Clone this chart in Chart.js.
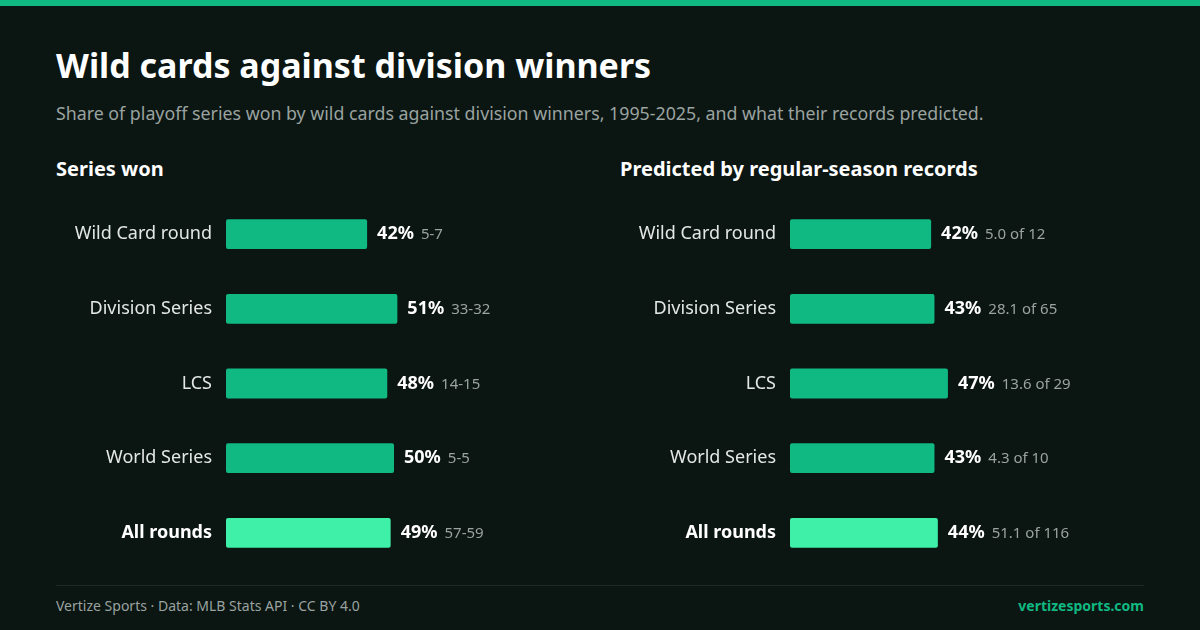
<!DOCTYPE html>
<html><head><meta charset="utf-8">
<script src="https://cdn.jsdelivr.net/npm/chart.js@4"></script>
<style>
body{margin:0;width:1200px;height:630px;background:#0b1512;font-family:"Noto Sans",sans-serif;position:relative;overflow:hidden}
.top{position:absolute;left:0;top:0;width:1200px;height:6px;background:#10b981}
h1{position:absolute;left:56px;top:42px;margin:0;font-size:34px;font-weight:700;color:#fff;line-height:46px}
.sub{position:absolute;left:56px;top:101px;font-size:17.8px;color:#9aa3a0}
.h2{position:absolute;top:155px;font-size:20px;font-weight:700;color:#fff}
canvas{position:absolute;top:180px}
.rule{position:absolute;left:56px;top:585px;width:1088px;height:1px;background:#1f2a27}
.foot{position:absolute;top:596px;font-size:14px;color:#9aa3a0}
</style></head><body>
<div class="top"></div>
<h1>Wild cards against division winners</h1>
<div class="sub">Share of playoff series won by wild cards against division winners, 1995-2025, and what their records predicted.</div>
<div class="h2" style="left:56px">Series won</div>
<div class="h2" style="left:620px">Predicted by regular-season records</div>
<canvas id="c1" width="540" height="407" style="left:56px;width:540px;height:407px"></canvas>
<canvas id="c2" width="540" height="407" style="left:620px;width:540px;height:407px"></canvas>
<div class="rule"></div>
<div class="foot" style="left:56px">Vertize Sports · Data: MLB Stats API · CC BY 4.0</div>
<div class="foot" style="right:56px;color:#10b981;font-weight:700">vertizesports.com</div>
<script>
const categories=["Wild Card round","Division Series","LCS","World Series","All rounds"];
const wonPct=[42,51,48,50,49];
const wonRecord=["5-7","33-32","14-15","5-5","57-59"];
const predPct=[42,43,47,43,44];
const predRecord=["5.0 of 12","28.1 of 65","13.6 of 29","4.3 of 10","51.1 of 116"];
const FONT='"Noto Sans", sans-serif';
function make(id,vals,notes){
  const labelPlugin={id:'lbl',afterDatasetsDraw(ch){
    const ctx=ch.ctx,meta=ch.getDatasetMeta(0);
    meta.data.forEach((b,i)=>{
      ctx.save();ctx.textBaseline='middle';
      ctx.font='700 18px '+FONT;ctx.fillStyle='#fff';
      const t=vals[i]+'%';const x=b.x+10;ctx.fillText(t,x,b.y);
      const w=ctx.measureText(t).width;
      ctx.font='15px '+FONT;ctx.fillStyle='#9aa3a0';ctx.fillText(notes[i],x+w+7,b.y+1);
      ctx.restore();});
  }};
  new Chart(document.getElementById(id),{type:'bar',
    data:{labels:categories,datasets:[{data:vals,
      backgroundColor:categories.map((c,i)=>i===4?'#3ff0a8':'#10b981'),
      borderRadius:2,borderSkipped:false,categoryPercentage:1,barPercentage:0.4}]},
    options:{indexAxis:'y',responsive:false,animation:false,
      layout:{padding:{right:34,left:0,top:0,bottom:0}},
      plugins:{legend:{display:false},tooltip:{enabled:false}},
      scales:{x:{display:false,min:0,max:100},
        y:{afterFit(s){s.width=170;},grid:{display:false},border:{display:false},
          ticks:{padding:6,color:(c)=>c.index===4?'#fff':'#e3e8e6',
            font:(c)=>({family:FONT,size:18,weight:c.index===4?'700':'400'})}}}},
    plugins:[labelPlugin]});
}
make('c1',wonPct,wonRecord);
make('c2',predPct,predRecord);
</script></body></html>
